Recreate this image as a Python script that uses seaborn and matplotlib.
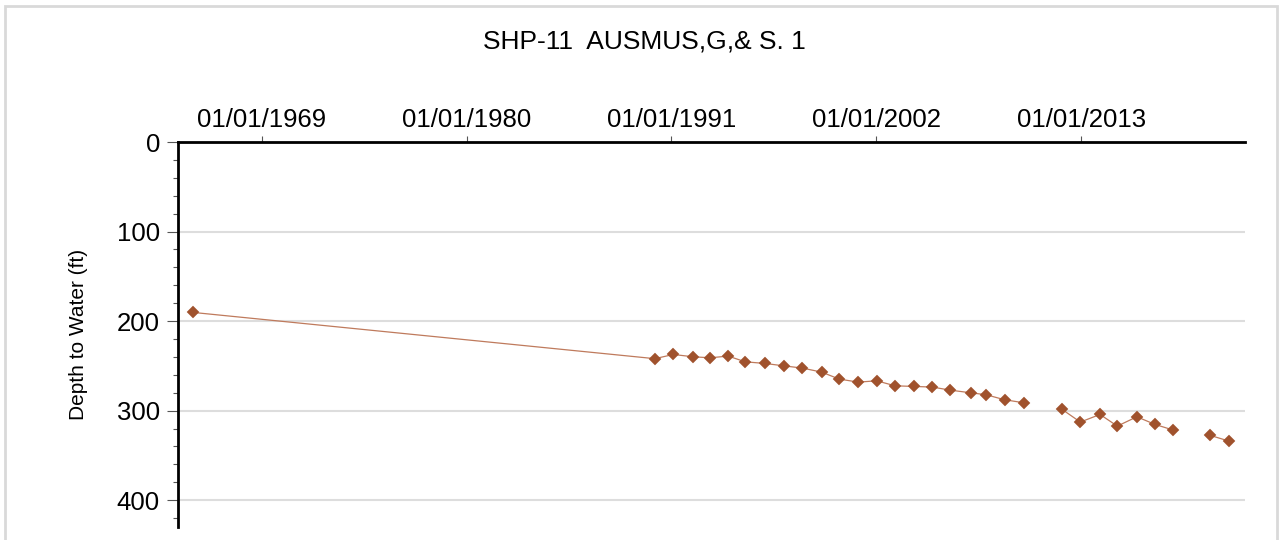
import numpy as np
import pandas as pd
import matplotlib
matplotlib.use("Agg")
import matplotlib.pyplot as plt
import matplotlib.dates as mdates
from matplotlib.patches import Rectangle
import seaborn as sns

dates = ["1965-04-15", "1990-02-10", "1991-02-06", "1992-03-03", "1993-01-30",
         "1994-01-19", "1994-12-17", "1996-01-05", "1997-01-12", "1998-01-12",
         "1999-01-26", "2000-01-05", "2001-01-15", "2002-01-08", "2003-01-05",
         "2004-01-05", "2005-01-05", "2005-12-17", "2007-01-26", "2007-11-28",
         "2008-11-24", "2009-12-13", "2011-12-17", "2012-12-17", "2014-01-08",
         "2014-12-13", "2016-01-01", "2016-12-20", "2017-12-17", "2019-12-13",
         "2020-12-13"]
depths = [190.3, 242.0, 237.3, 239.9, 241.0, 239.1, 245.5, 247.3, 250.0, 252.5,
          257.0, 264.8, 268.2, 266.7, 272.3, 273.0, 273.7, 277.1, 280.1, 282.3,
          287.9, 291.3, 298.3, 312.8, 304.3, 317.3, 306.9, 315.4, 321.8, 327.7,
          334.1]
# connected runs of the line (gaps where the line breaks)
segments = [0] * 22 + [1] * 7 + [2] * 2

tick_dates = ["1969-01-01", "1980-01-01", "1991-01-01", "2002-01-01", "2013-01-01"]
title = "SHP-11  AUSMUS,G,& S. 1"

df = pd.DataFrame({"date": pd.to_datetime(dates), "depth": depths, "seg": segments})

sns.set_theme(style="white")
plt.rcParams["font.family"] = ["Liberation Sans", "DejaVu Sans"]

fig = plt.figure(figsize=(12.81, 5.4), dpi=100)
W, H = 1281, 540
ax = fig.add_axes([178 / W, 1 - 527 / H, (1245 - 178) / W, (527 - 142) / H])

for s, part in df.groupby("seg"):
    sns.lineplot(data=part, x="date", y="depth", ax=ax, color="#bf7a5c",
                 linewidth=0.9, marker="D", markersize=6.3,
                 markerfacecolor="#a0522d", markeredgecolor="#a0522d",
                 markeredgewidth=0.3, estimator=None, sort=False)

ax.set_xlim(pd.Timestamp("1964-07-01"), pd.Timestamp("2021-10-22"))
ax.set_ylim(430, 0)

ax.xaxis.tick_top()
ax.set_xticks(pd.to_datetime(tick_dates))
ax.xaxis.set_major_formatter(mdates.DateFormatter("%m/%d/%Y"))
ax.set_yticks([0, 100, 200, 300, 400])
ax.set_yticks(np.arange(20, 430, 20), minor=True)

ax.tick_params(axis="x", which="major", top=True, bottom=False, length=4.3,
               width=0.8, color="#555555", pad=3, labelsize=18.5,
               labelcolor="black")
ax.tick_params(axis="y", which="major", left=True, length=8, width=0.8,
               color="#555555", pad=5, labelsize=18.5, labelcolor="black")
ax.tick_params(axis="y", which="minor", left=True, length=3.6, width=0.8,
               color="#555555")

ax.grid(False)
ax.yaxis.grid(True, which="major", color="#dddddd", linewidth=1.5)
ax.set_axisbelow(True)

for side in ["right", "bottom"]:
    ax.spines[side].set_visible(False)
for side in ["top", "left"]:
    ax.spines[side].set_color("black")
    ax.spines[side].set_linewidth(2)

ax.set_xlabel("")
ax.set_ylabel("Depth to Water (ft)", fontsize=15, color="black")
ax.yaxis.set_label_coords(-0.084, 0.5)

fig.text(644 / W, 1 - 42 / H, title, ha="center", va="center", fontsize=19,
         color="black")

# light frame around the whole chart
fig.patches.append(Rectangle((5 / W, -0.1), (1277 - 5) / W, 1.1 - 6 / H,
                             transform=fig.transFigure, fill=False,
                             edgecolor="#d9d9d9", linewidth=2))

fig.savefig("out.png", dpi=100)
